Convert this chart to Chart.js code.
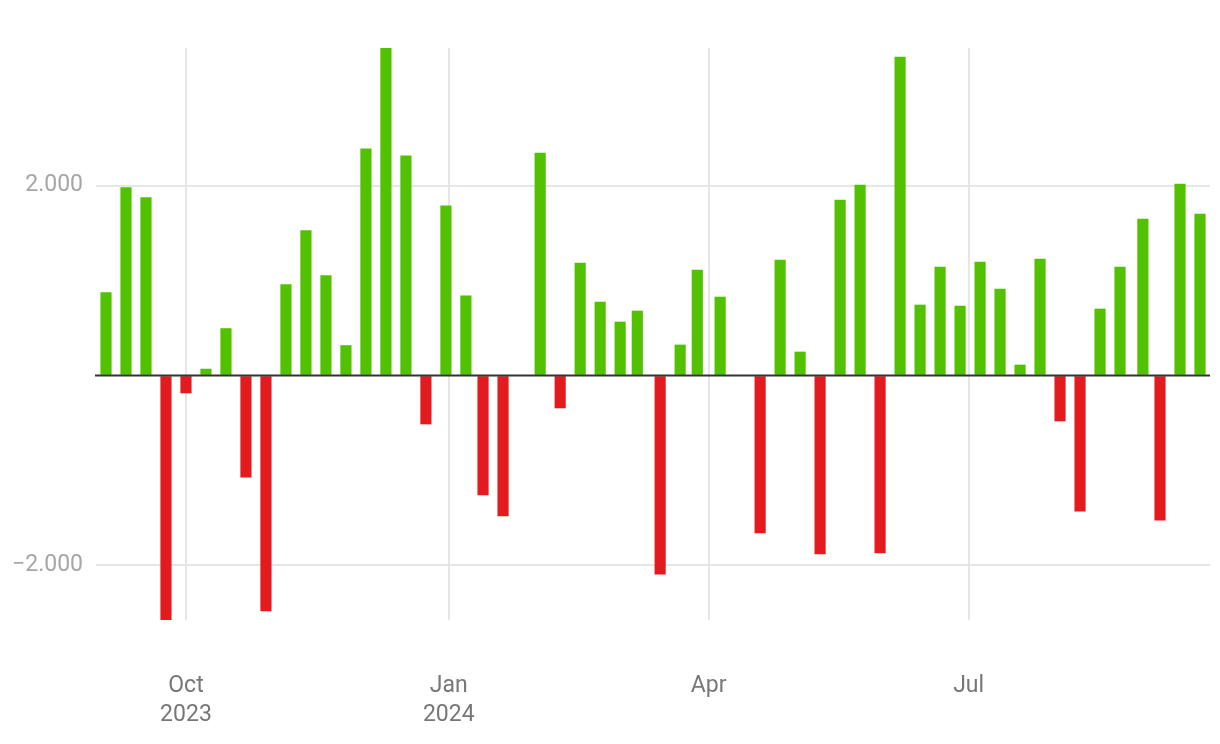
<!DOCTYPE html>
<html>
<head>
<meta charset="utf-8">
<script src="https://cdn.jsdelivr.net/npm/chart.js@4.4.1/dist/chart.umd.min.js"></script>
<style>
  html, body { margin: 0; padding: 0; background: #fff; }
  #wrap { width: 1220px; height: 744px; }
</style>
</head>
<body>
<div id="wrap"><canvas id="chart" width="1220" height="744"></canvas></div>
<script>
// ====== DATA ======
const DATES = [
  '2023-09-03','2023-09-10','2023-09-17','2023-09-24','2023-10-01','2023-10-08',
  '2023-10-15','2023-10-22','2023-10-29','2023-11-05','2023-11-12','2023-11-19',
  '2023-11-26','2023-12-03','2023-12-10','2023-12-17','2023-12-24','2023-12-31',
  '2024-01-07','2024-01-13','2024-01-20','2024-02-02','2024-02-09','2024-02-16',
  '2024-02-23','2024-03-01','2024-03-07','2024-03-15','2024-03-22','2024-03-28',
  '2024-04-05','2024-04-19','2024-04-26','2024-05-03','2024-05-10','2024-05-17',
  '2024-05-24','2024-05-31','2024-06-07','2024-06-14','2024-06-21','2024-06-28',
  '2024-07-05','2024-07-12','2024-07-19','2024-07-26','2024-08-02','2024-08-09',
  '2024-08-16','2024-08-23','2024-08-31','2024-09-06','2024-09-13','2024-09-20'
];
const VALUES = [
   874, 1979, 1874, -2576, -184,   68,
   495, -1070, -2481, 958, 1526, 1053,
   316, 2389, 3451, 2316, -511, 1789,
   840, -1259, -1480, 2345, -342, 1185,
   774,  564,  680, -2092,  322, 1112,
   827, -1659, 1217,  248, -1881, 1849,
  2007, -1870, 3356,  743, 1143,  732,
  1196,  911,  111, 1227, -479, -1428,
   701, 1143, 1649, -1523, 2018, 1701
];
const TICK_DATES  = ['2023-10-01', '2024-01-01', '2024-04-01', '2024-07-01'];
const TICK_LABELS = [['Oct', '2023'], ['Jan', '2024'], ['Apr'], ['Jul']];
const Y_TICKS = [-2000, 0, 2000];

// ====== HELPERS ======
const ORIGIN = Date.UTC(2023, 9, 1);
function dayOf(s) {
  const [y, m, d] = s.split('-').map(Number);
  return (Date.UTC(y, m - 1, d) - ORIGIN) / 86400000;
}
function fmtDe(v) {
  const s = Math.abs(Math.round(v)).toString().replace(/\B(?=(\d{3})+(?!\d))/g, '.');
  return (v < 0 ? '\u2212' : '') + s;
}

const GREEN = '#52c100';
const RED   = '#e31b1f';
const points = DATES.map((d, i) => ({ x: dayOf(d), y: VALUES[i] }));
const tickDays = TICK_DATES.map(dayOf);

const zeroLine = {
  id: 'zeroLine',
  afterDatasetsDraw(chart) {
    const { ctx, chartArea, scales } = chart;
    const y = scales.y.getPixelForValue(0);
    ctx.save();
    ctx.strokeStyle = '#333';
    ctx.lineWidth = 2;
    ctx.beginPath();
    ctx.moveTo(chartArea.left - 1, y);
    ctx.lineTo(chartArea.right, y);
    ctx.stroke();
    ctx.restore();
  }
};

// ====== CHART ======
new Chart(document.getElementById('chart').getContext('2d'), {
  type: 'bar',
  data: {
    datasets: [{
      data: points,
      backgroundColor: points.map(p => p.y < 0 ? RED : GREEN),
      barThickness: 10.5,
      borderWidth: 0
    }]
  },
  options: {
    responsive: false,
    animation: false,
    layout: { padding: { top: 48, right: 10, left: 0, bottom: 0 } },
    plugins: { legend: { display: false }, tooltip: { enabled: false } },
    scales: {
      x: {
        type: 'linear',
        min: -31.5,
        max: 358.5,
        offset: false,
        afterBuildTicks: (s) => { s.ticks = tickDays.map(v => ({ value: v })); },
        afterFit: (s) => { s.height = 124; },
        grid: { color: '#e6e6e6', lineWidth: 2, drawTicks: false, offset: false },
        border: { display: false },
        ticks: {
          padding: 52.5,
          maxRotation: 0,
          autoSkip: false,
          color: '#777',
          font: { family: 'Roboto', size: 23, lineHeight: 1.23 },
          callback: (v) => {
            const i = tickDays.indexOf(v);
            return i >= 0 ? TICK_LABELS[i] : '';
          }
        }
      },
      y: {
        min: -2576,
        max: 3451,
        afterBuildTicks: (s) => { s.ticks = Y_TICKS.map(v => ({ value: v })); },
        afterFit: (s) => { s.width = 96; },
        grid: {
          color: (c) => c.tick && c.tick.value === 0 ? 'rgba(0,0,0,0)' : '#e6e6e6',
          lineWidth: 2,
          drawTicks: false
        },
        border: { display: false },
        ticks: {
          padding: 13,
          color: '#a6a6a6',
          font: { family: 'Roboto', size: 23 },
          callback: (v) => v === 0 ? '' : fmtDe(v)
        }
      }
    }
  },
  plugins: [zeroLine]
});
</script>
</body>
</html>
